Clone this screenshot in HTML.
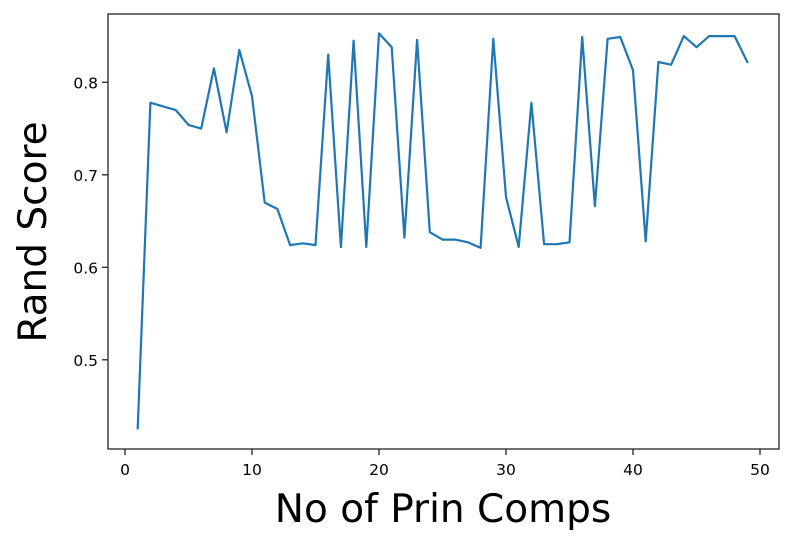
<!DOCTYPE html>
<html><head><meta charset="utf-8"><style>
body{margin:0;background:#fff;}
svg{display:block;font-family:"DejaVu Sans","Liberation Sans",sans-serif;}
</style></head><body>
<svg id="chart" width="792" height="544"></svg>
<script>
const xValues = [];
for (let i = 1; i <= 49; i++) xValues.push(i);
const randScores = [0.426,0.778,0.774,0.770,0.754,0.750,0.815,0.746,0.835,0.785,
0.670,0.663,0.624,0.626,0.624,0.830,0.622,0.845,0.622,0.853,
0.838,0.632,0.846,0.638,0.630,0.630,0.627,0.621,0.847,0.676,
0.622,0.778,0.625,0.625,0.627,0.849,0.666,0.847,0.849,0.813,
0.628,0.822,0.819,0.850,0.838,0.850,0.850,0.850,0.822];
const xTicks = [0,10,20,30,40,50];
const yTicks = [0.5,0.6,0.7,0.8];

const NS = "http://www.w3.org/2000/svg";
const svg = document.getElementById('chart');
const L=108,R=779,T=14,B=449;
function xs(v){return 125 + v*12.7;}
function ys(v){return 82.3 + (0.8 - v)*925;}
function mk(tag, attrs){const e=document.createElementNS(NS,tag);for(const k in attrs)e.setAttribute(k,attrs[k]);svg.appendChild(e);return e;}

xTicks.forEach(t=>{
  const l=mk('line',{x1:xs(t),x2:xs(t),y1:B,y2:B+6,stroke:'#222','stroke-width':1.3});
  
  
  const tx=mk('text',{x:xs(t),y:B+26,'text-anchor':'middle','font-size':15.5,fill:'#000'});
  tx.textContent=t;
  
  
});
yTicks.forEach(t=>{
  const l=mk('line',{x1:L-6,x2:L,y1:ys(t),y2:ys(t),stroke:'#222','stroke-width':1.3});
  
  
  const tx=mk('text',{x:L-10,y:ys(t)+6,'text-anchor':'end','font-size':15.5,fill:'#000'});
  tx.textContent=t.toFixed(1);
  
  
});

const pts = xValues.map((x,i)=>xs(x).toFixed(1)+','+ys(randScores[i]).toFixed(1)).join(' ');
const line = mk('polyline',{points:pts,fill:'none',stroke:'#1f77b4','stroke-width':2.2,'stroke-linejoin':'round','stroke-linecap':'square'});



const frame = mk('rect',{x:L,y:T,width:R-L,height:B-T,fill:'none',stroke:'#222','stroke-width':1.3});



const xt = mk('text',{x:443,y:522,'text-anchor':'middle','font-size':39,fill:'#000'});
xt.textContent='No of Prin Comps';


const yt = mk('text',{x:0,y:0,'text-anchor':'middle','font-size':39,fill:'#000',transform:'translate(46,232) rotate(-90)'});
yt.textContent='Rand Score';


</script>
</body></html>
